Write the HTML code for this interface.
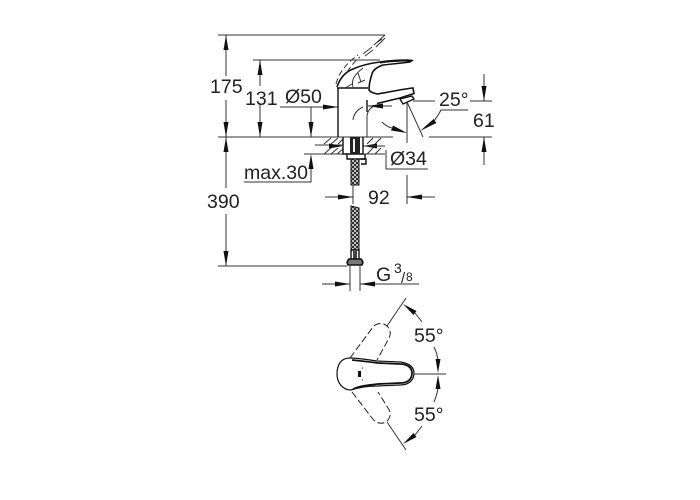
<!DOCTYPE html>
<html><head><meta charset="utf-8"><style>
html,body{margin:0;padding:0;background:#fff;width:700px;height:500px;overflow:hidden}
svg{display:block}
text{font-family:"Liberation Sans",sans-serif;font-size:19.5px;fill:#222}
.l{stroke:#333;stroke-width:1;fill:none}
.b{stroke:#111;stroke-width:1.4;fill:none}
.t{stroke:#111;stroke-width:2;fill:none}
.d{stroke:#222;stroke-width:1;fill:none;stroke-dasharray:7 3}
.a{fill:#111;stroke:none}
</style></head><body>
<svg width="700" height="500" viewBox="0 0 700 500" xmlns="http://www.w3.org/2000/svg">
<defs>
<pattern id="h" width="4" height="4" patternUnits="userSpaceOnUse">
<rect width="4" height="4" fill="#333"/><rect x="0" y="0" width="2" height="2" fill="#bbb"/><rect x="2" y="2" width="2" height="2" fill="#bbb"/>
</pattern>
</defs>
<!-- extension lines -->
<path class="l" d="M218 35H385M253 60H380M218 137H393M429 137H492M218 266H347M315 145H343M304 154H322M244 182H311V160M386 150V169H428"/>
<!-- 175 / 390 -->
<path class="l" d="M226 35V76M226 100V137M226 137V188M226 214V266"/>
<path class="a" d="M226 35l-2.500 15h5zM226 137l-2.500-15h5zM226 137l2.500 15h-5zM226 266l-2.500-15h5z"/>
<!-- 131 -->
<path class="l" d="M260 60V86M260 103V137"/>
<path class="a" d="M260 60l-2.500 15h5zM260 137l-2.500-15h5z"/>
<!-- O50 -->
<path class="l" d="M280 107H338M311 107V137M368 106H392"/>
<path class="a" d="M338 107l-15-2.500v5zM311 137l-2.500-15h5zM368 106l15-2.500v5z"/>
<path class="l" d="M367 137V116Q368 108 375 106"/>
<!-- max.30 arrow -->
<path class="a" d="M311 154l-2.500 15h5z"/>
<!-- faucet body -->
<path class="b" d="M338 88V137M367 100V112M337 88H368"/>
<path class="l" d="M353 120Q354 111 363 107"/>
<!-- handle -->
<path d="M337 87C340 78 345 72 353 69C362 65 372 63 380 62C392 60 402 60 408 60L412 60.500L410 62C402 63 392 64 383 65C377 67 373 70 372 74C370 80 369 86 369 90C371 93 374 93 377 94C390 92 403 89 413 88L414 93.500L400 98L377 103.500" fill="none" stroke="#111" stroke-width="1.600"/>
<path class="l" d="M353 87C351 80 354 75 363 68M358 83L365 80M358 73L361 82M345 88L352 84"/>
<path d="M380 63C392 61 402 61 410 61" fill="none" stroke="#111" stroke-width="1"/>
<!-- dashed lever -->
<path class="l" stroke-dasharray="6 3" d="M336 84C339 72 347 63 358 55"/>
<path class="l" stroke-dasharray="6 3" d="M347 72C351 66 355 61 360 57"/>
<path class="l" d="M363 54L372 47M365 56L373 50M374 45L385 35M376 47L385 38M376 43L382 39"/>
<!-- aerator -->
<path class="b" d="M400 99L412 96L414 99L403 104Z"/>
<!-- 25 deg -->
<path class="l" d="M407 102V143M407 175V204M407 102L423 137M413 101H435M470 101H492M468 110H441Q437 118 431 124"/>
<path class="a" d="M420 131L436.400 123L433.600 119Z"/>
<path class="l" d="M382 122Q387 127 392 128"/>
<path class="a" d="M407 133L391 130.500L393 125.500Z"/>
<!-- 61 -->
<path class="l" d="M484 74V101M484 137V165"/>
<path class="a" d="M484 101l-2.500-15h5zM484 137l-2.500 15h5z"/>
<!-- counter top hatch -->
<path class="l" d="M322 154H343M363 154H385"/>
<path class="l" d="M324 144L331 138M331 144L338 138M338 144L343 139M367 144L373 138M375 144L381 138M324 154L331 148M331 154L338 148M337 154L343 149M367 154L373 148M375 154L381 148"/>
<path class="a" d="M343 146l-14-2.500v5zM363 146l14-2.500v5z"/>
<path class="l" d="M363 146H385"/>
<!-- connector -->
<path class="b" d="M343 137V154H363V137"/>
<path class="b" d="M347 154V159H365V154"/>
<rect x="350" y="137" width="10" height="17" fill="#222"/>
<rect x="353" y="139" width="2" height="13" fill="#eee"/>
<path class="b" d="M361 159H366V164H361"/>
<!-- hose -->
<rect x="351" y="159" width="8" height="26" fill="url(#h)" stroke="#111" stroke-width="1"/>
<path d="M351 206L359 208V250H351Z" fill="url(#h)" stroke="#111" stroke-width="1"/>
<path class="l" d="M353 185V204"/>
<path class="b" d="M351 250H359V260H351Z"/>
<path d="M353 251H357V259H353Z" fill="#444"/>
<path d="M349 259H361Q364 262 362 265H348Q346 262 349 259Z" fill="#777" stroke="#111" stroke-width="1.600"/>
<!-- 92 -->
<path class="l" d="M325 197H353M407 197H435"/>
<path class="a" d="M353 197l-15-2.500v5zM407 197l15-2.500v5z"/>
<!-- G3/8 -->
<path class="l" d="M350 266V291M360 266V291M322 284H350M360 284H419"/>
<path class="a" d="M350 284l-15-2.500v5zM360 284l15-2.500v5z"/>
<!-- top view -->
<path d="M350 358C340 358 337 366 337 374C337 382 342 390 351 390C360 387 368 386 377 386L400 385C409 385 414 380 414 373C414 367 409 363 400 362L377 361C368 360 360 358 350 358Z" fill="none" stroke="#111" stroke-width="1.200"/>
<path d="M352 360C362 361 370 362 378 363L400 364C408 364 412 368 412 373C412 379 408 383 400 383L378 384C368 385 360 386 353 389" fill="none" stroke="#111" stroke-width="1.800"/>
<path d="M358 371H361V377H358Z" fill="#111"/>
<path class="a" d="M362 367.500h1v1h-1zM362 379.500h1v1h-1z"/>
<path class="l" d="M414 374H446"/>
<path class="d" d="M350 358L373 327C376 323 384 322 388 327C391 331 391 335 388 340L377 360"/>
<path class="d" d="M352 392L372 418C376 424 384 425 388 420C391 416 391 412 388 408L378 392"/>
<path class="l" d="M387 326L406 298M387 422L406 450"/>
<path class="a" d="M403 304L413.500 315L416.500 311Z"/>
<path class="l" d="M415 313L422 322M415 435L422 426"/>
<path class="a" d="M403 444L416.500 437L413.500 433Z"/>
<path class="l" d="M434 347Q437 353 438 360M438 388Q437 395 434 402"/>
<path class="a" d="M438 373l-2.500-14h5zM438 375l-2.500 14h5z"/>
<!-- labels -->
<text x="210" y="93">175</text>
<text x="245" y="105">131</text>
<text x="285" y="103">Ø50</text>
<text x="439" y="106">25°</text>
<text x="473" y="127">61</text>
<text x="390" y="165">Ø34</text>
<text x="244" y="179">max.30</text>
<text x="207" y="208">390</text>
<text x="368" y="204">92</text>
<text x="376" y="281">G</text>
<text x="394" y="273" style="font-size:14px">3</text>
<text x="401" y="283" style="font-size:15px">/</text>
<text x="406" y="281" style="font-size:12px">8</text>
<text x="414" y="342">55°</text>
<text x="414" y="421">55°</text>
</svg>
</body></html>
